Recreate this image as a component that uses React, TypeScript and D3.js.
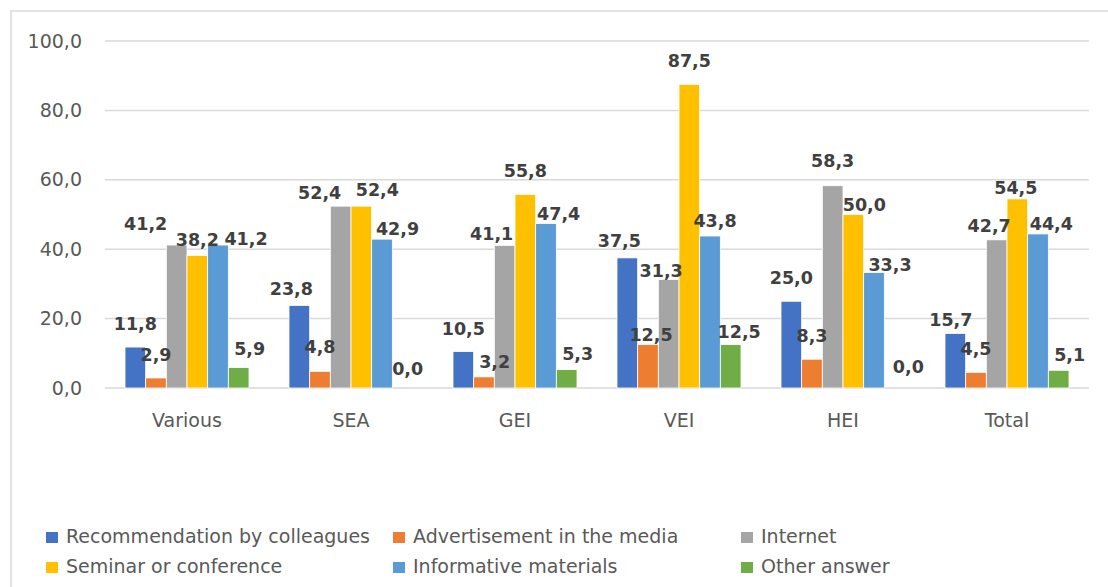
import React from "react";
import * as d3 from "d3";

const categories = ["Various", "SEA", "GEI", "VEI", "HEI", "Total"];
const seriesNames = [
  "Recommendation by colleagues",
  "Advertisement in the media",
  "Internet",
  "Seminar or conference",
  "Informative materials",
  "Other answer",
];
const seriesColors = ["#4472C4", "#ED7D31", "#A5A5A5", "#FFC000", "#5B9BD5", "#70AD47"];
const recommendation = [11.8, 23.8, 10.5, 37.5, 25.0, 15.7];
const advertisement = [2.9, 4.8, 3.2, 12.5, 8.3, 4.5];
const internet = [41.2, 52.4, 41.1, 31.3, 58.3, 42.7];
const seminar = [38.2, 52.4, 55.8, 87.5, 50.0, 54.5];
const informative = [41.2, 42.9, 47.4, 43.8, 33.3, 44.4];
const other = [5.9, 0.0, 5.3, 12.5, 0.0, 5.1];
const yTicks = [0, 20, 40, 60, 80, 100];

const seriesValues = [recommendation, advertisement, internet, seminar, informative, other];

// Layout: manual nudges of the data labels (px), per category row, per series column
const labelNudgeX = [
  [0, 0, -31, 0, 28, 11],
  [-8, 0, -21, 16, 15.5, 5],
  [0, 10.7, -13, 0, 12.7, 11],
  [-8, 3, -7.5, 0, 5, 8.5],
  [0, 0, 0, 11, 16, 13.7],
  [-4.5, 0, -7.5, -1.5, 13.3, 11],
];
const labelNudgeY = [
  [0, 0, 2, 8, 17, 4],
  [7, -1, 10, 7, 13, 4],
  [0, 8, 12, 0, 13, 7],
  [6.5, 13, 15, 0, 7.6, 10],
  [0, 0, -1.7, 13.7, 16, 2.3],
  [9.7, 0, 8.7, 12, 13, 8],
];

const W = 1108;
const H = 587;
const FONT = "'DejaVu Sans', sans-serif";
const fmt = (v: number) => v.toFixed(1).replace(".", ",");

export default function App() {
  const y = d3.scaleLinear().domain([0, 100]).range([388, 41]);
  const x0 = d3.scaleBand<string>().domain(categories).range([105, 1089]).paddingInner(0).paddingOuter(0);
  const x1 = d3
    .scaleBand<string>()
    .domain(seriesNames)
    .range([20, x0.bandwidth() - 20])
    .padding(0);

  const legendCols = [46, 393, 741];
  const legendRows = [532, 562];

  return (
    <div style={{ position: "absolute", left: 0, top: 0 }}>
      <svg width={W} height={H} style={{ display: "block" }}>
        <rect x={0} y={0} width={W} height={H} fill="#fff" />
        <rect x={11} y={11} width={W + 20} height={H + 20} fill="#fff" stroke="#D9D9D9" strokeWidth={1.5} />
        {yTicks.map((t) => (
          <g key={t}>
            <line x1={105} x2={1089} y1={y(t)} y2={y(t)} stroke="#D9D9D9" strokeWidth={1.5} />
            <text x={82} y={y(t) + 6.5} textAnchor="end" fontFamily={FONT} fontSize={19} fill="#595959">
              {fmt(t)}
            </text>
          </g>
        ))}
        {categories.map((c, ci) => (
          <g key={c} transform={`translate(${x0(c)},0)`}>
            {seriesNames.map((s, si) => {
              const v = seriesValues[si][ci];
              const bx = x1(s) as number;
              return (
                <rect
                  key={s}
                  x={bx}
                  y={y(v)}
                  width={x1.bandwidth()}
                  height={y(0) - y(v)}
                  fill={seriesColors[si]}
                  stroke="#fff"
                  strokeWidth={0.8}
                />
              );
            })}
            <text
              x={x0.bandwidth() / 2}
              y={427}
              textAnchor="middle"
              fontFamily={FONT}
              fontSize={19}
              fill="#595959"
            >
              {c}
            </text>
          </g>
        ))}
        {categories.map((c, ci) => (
          <g key={c + "-labels"} transform={`translate(${x0(c)},0)`}>
            {seriesNames.map((s, si) => {
              const v = seriesValues[si][ci];
              const cx = (x1(s) as number) + x1.bandwidth() / 2 + labelNudgeX[ci][si];
              return (
                <text
                  key={s}
                  x={cx}
                  y={y(v) - 17 + labelNudgeY[ci][si]}
                  textAnchor="middle"
                  fontFamily={FONT}
                  fontSize={17.5}
                  fontWeight="bold"
                  fill="#404040"
                >
                  {fmt(v)}
                </text>
              );
            })}
          </g>
        ))}
        {seriesNames.map((s, i) => {
          const lx = legendCols[i % 3];
          const ly = legendRows[Math.floor(i / 3)];
          return (
            <g key={s + "-leg"}>
              <rect x={lx} y={ly} width={12} height={11} fill={seriesColors[i]} />
              <text x={lx + 20} y={ly + 11} fontFamily={FONT} fontSize={19} fill="#595959">
                {s}
              </text>
            </g>
          );
        })}
      </svg>
    </div>
  );
}
